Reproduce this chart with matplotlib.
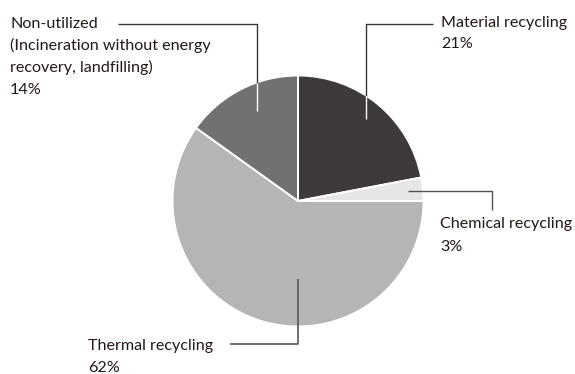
import matplotlib
matplotlib.use("Agg")
import matplotlib.pyplot as plt

# Data (wedge sizes; labels as printed)
categories = ["Material recycling", "Chemical recycling", "Thermal recycling",
              "Non-utilized\n(Incineration without energy\nrecovery, landfilling)"]
shares = [22.0, 3.0, 59.9, 15.1]
pct_labels = ["21%", "3%", "62%", "14%"]
colors = ["#3e3a39", "#e6e6e6", "#b5b5b5", "#727171"]

W, H = 575, 374
fig = plt.figure(figsize=(W / 100, H / 100), dpi=100)
ax = fig.add_axes([0, 0, 1, 1])

def Y(y):
    return H - y

cx, cy, r = 298, 201, 125.5
ax.pie(shares, colors=colors, startangle=90, counterclock=False,
       center=(cx, Y(cy)), radius=r, frame=True,
       wedgeprops=dict(edgecolor="white", linewidth=1.4))
ax.set_xlim(0, W)
ax.set_ylim(0, H)
ax.set_aspect("equal")
ax.axis("off")

txt_color = "#231815"
line_dark = "#3b3536"
font = dict(family=["Lato", "DejaVu Sans"], fontsize=11.6, color=txt_color)

def poly(pts, color=line_dark, lw=1.0, z=5):
    xs = [p[0] for p in pts]
    ys = [Y(p[1]) for p in pts]
    ax.plot(xs, ys, color=color, lw=lw, solid_capstyle="butt", zorder=z)

# Leader lines
poly([(118, 24), (257, 24), (257, 83)])
poly([(257, 83), (257, 111)], color="white")
poly([(433, 24), (366, 24), (366, 96)])
poly([(366, 96), (366, 119)], color="white")
poly([(408, 191), (492, 191), (492, 210)], color="#555152")
poly([(298, 279), (298, 344), (230, 344)], color="#5a5556", lw=1.2)

def label(x, baselines, lines):
    for b, t in zip(baselines, lines):
        ax.text(x, Y(b), t, ha="left", va="baseline", **font)

label(441, [27, 48], [categories[0], pct_labels[0]])
label(440, [228, 251], [categories[1], pct_labels[1]])
label(88, [350, 371.5], [categories[2], pct_labels[2]])
label(10, [28, 50, 72, 94], categories[3].split("\n") + [pct_labels[3]])

fig.savefig("out.png", dpi=100)
